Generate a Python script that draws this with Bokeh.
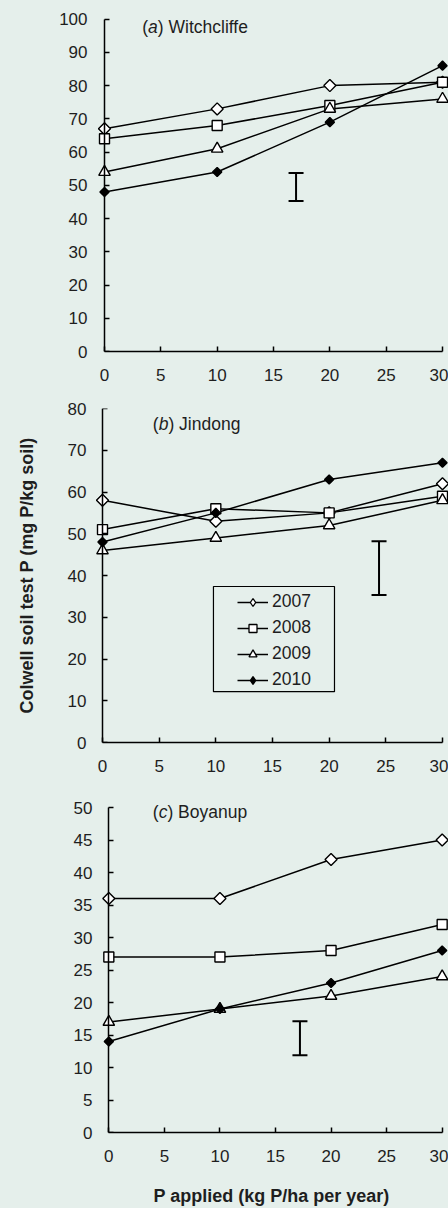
from bokeh.plotting import figure
from bokeh.layouts import column
from bokeh.models import (Label, Legend, LegendItem, BoxAnnotation, Whisker, TeeHead,
                          ColumnDataSource, FixedTicker, Range1d, LinearAxis)
from bokeh.embed import file_html
from bokeh.resources import INLINE
import numpy as np

# ---------------- data ----------------
p_applied = [0, 10, 20, 30]
years = ["2007", "2008", "2009", "2010"]

witch_2007 = [67, 73, 80, 81]
witch_2008 = [64, 68, 74, 81]
witch_2009 = [54, 61, 73, 76]
witch_2010 = [48, 54, 69, 86]

jind_2007 = [58, 53, 55, 62]
jind_2008 = [51, 56, 55, 59]
jind_2009 = [46, 49, 52, 58]
jind_2010 = [48, 55, 63, 67]

boy_2007 = [36, 36, 42, 45]
boy_2008 = [27, 27, 28, 32]
boy_2009 = [17, 19, 21, 24]
boy_2010 = [14, 19, 23, 28]

site_letters = ["a", "b", "c"]
site_names = ["Witchcliffe", "Jindong", "Boyanup"]
y_max = [100, 80, 50]
y_step = [10, 10, 5]

lsd_x = [17.0, 24.4, 17.2]
lsd_low = [45.3, 35.3, 11.9]
lsd_high = [53.7, 48.2, 17.1]

x_ticks = [0, 5, 10, 15, 20, 25, 30]

# ---------------- style ----------------
BG = "#e5efeb"
FONT = "Liberation Sans"
TXT = "#1e1e1e"
FS = "17px"
FS_T = "17.5px"
FS_AX = "18px"

mstyle = {
    "2007": ("square", 8.5, np.pi / 4, "white"),
    "2008": ("square", 10, 0, "white"),
    "2009": ("triangle", 11.5, 0, "white"),
    "2010": ("square", 6.5, np.pi / 4, "black"),
}
legend_marker = {"2007": ("diamond", "white"), "2008": ("square", "white"),
                 "2009": ("triangle", "white"), "2010": ("diamond", "black")}

# panel layout (frames share the same left/right edges)
BL = 86
geom = [
    dict(h=390, bt=4, bb=47, ytop=102, x0=-0.888, x1=30.53, tx=3.35, ty=97.5, so=7),
    dict(h=392, bt=10, bb=48, ytop=80, x0=-0.706, x1=30.53, tx=4.44, ty=76.4, so=8),
    dict(h=418, bt=4, bb=75, ytop=52, x0=-1.29, x1=30.57, tx=3.96, ty=49.3, so=2),
]

series_all = [
    [witch_2007, witch_2008, witch_2009, witch_2010],
    [jind_2007, jind_2008, jind_2009, jind_2010],
    [boy_2007, boy_2008, boy_2009, boy_2010],
]

paren_w = 0.333 * 17.5
letter_w = {"a": 0.556 * 17.5, "b": 0.556 * 17.5, "c": 0.5 * 17.5}

figs = []
for i in range(3):
    g = geom[i]
    p = figure(width=440, height=g["h"], output_backend="svg", toolbar_location=None,
               x_range=Range1d(g["x0"], g["x1"]), y_range=Range1d(0, g["ytop"]),
               min_border_left=BL, min_border_right=0,
               min_border_top=g["bt"], min_border_bottom=g["bb"])
    p.background_fill_color = BG
    p.border_fill_color = BG
    p.outline_line_color = None
    p.grid.visible = False

    yticks = list(range(0, y_max[i] + 1, y_step[i]))

    # x axis
    xa = p.xaxis[0]
    xa.axis_line_color = "black"
    xa.axis_line_width = 1.5
    xa.major_tick_line_color = "black"
    xa.major_tick_line_width = 1.5
    xa.major_tick_in = 5
    xa.major_tick_out = 0
    xa.minor_tick_line_color = None
    xa.major_label_text_font = FONT
    xa.major_label_text_font_size = FS
    xa.major_label_text_color = TXT
    xa.ticker = FixedTicker(ticks=x_ticks)
    xa.bounds = (0, 30)
    xa.major_label_standoff = 17

    # y axis: labels only (at frame edge)
    ya = p.yaxis[0]
    ya.ticker = FixedTicker(ticks=yticks)
    ya.axis_line_color = None
    ya.major_tick_line_color = None
    ya.minor_tick_line_color = None
    ya.major_tick_in = 0
    ya.major_tick_out = 0
    ya.major_label_standoff = g["so"]
    ya.major_label_text_font = FONT
    ya.major_label_text_font_size = FS
    ya.major_label_text_color = TXT

    # y axis line + inward ticks at x = 0
    yl = LinearAxis(ticker=FixedTicker(ticks=yticks), fixed_location=0,
                    bounds=(0, y_max[i]), axis_line_color="black", axis_line_width=1.5,
                    major_tick_line_color="black", major_tick_line_width=1.5,
                    major_tick_in=5, major_tick_out=0, minor_tick_line_color=None,
                    major_label_text_font_size="0px", major_label_standoff=0,
                    major_label_text_alpha=0)
    p.add_layout(yl, "left")

    sers = series_all[i]
    line_r = []
    for yr, ys in zip(years, sers):
        line_r.append(p.line(p_applied, ys, line_color="black", line_width=1.5))
    for yr, ys in zip(years, sers):
        m, s, a, f = mstyle[yr]
        p.scatter(p_applied, ys, marker=m, size=s, angle=a,
                  fill_color=f, line_color="black", line_width=1.4)

    # LSD bar
    src = ColumnDataSource(dict(x=[lsd_x[i]], lo=[lsd_low[i]], hi=[lsd_high[i]]))
    w = Whisker(source=src, base="x", lower="lo", upper="hi", dimension="height",
                line_color="black", line_width=2,
                lower_head=TeeHead(size=15, line_width=2, line_color="black"),
                upper_head=TeeHead(size=15, line_width=2, line_color="black"))
    p.add_layout(w)

    # panel title "(x) Name" with italic letter
    lt = site_letters[i]
    p.add_layout(Label(x=g["tx"], y=g["ty"], text="(", text_font=FONT, text_font_size=FS_T,
                       text_color=TXT, text_baseline="middle", text_align="left"))
    p.add_layout(Label(x=g["tx"], y=g["ty"], x_offset=paren_w, text=lt, text_font=FONT,
                       text_font_size=FS_T, text_font_style="italic", text_color=TXT,
                       text_baseline="middle", text_align="left"))
    p.add_layout(Label(x=g["tx"], y=g["ty"], x_offset=paren_w + letter_w[lt],
                       text=") " + site_names[i], text_font=FONT, text_font_size=FS_T,
                       text_color=TXT, text_baseline="middle", text_align="left"))

    if i == 1:
        ya.axis_label = "Colwell soil test P (mg P/kg soil)"
        ya.axis_label_text_font = FONT
        ya.axis_label_text_font_size = FS_AX
        ya.axis_label_text_font_style = "bold"
        ya.axis_label_text_color = TXT
        ya.axis_label_standoff = 28
        items = []
        for k, (yr, ys) in enumerate(zip(years, sers)):
            lm, lf = legend_marker[yr]
            proxy = p.scatter(p_applied, ys, marker=lm, fill_color=lf,
                              line_color="black", line_width=1.3, visible=False)
            items.append(LegendItem(label=yr, renderers=[line_r[k], proxy]))
        leg = Legend(items=items, location=(143, 52), padding=0, margin=0,
                     glyph_width=31, glyph_height=20, label_height=20, spacing=5,
                     label_standoff=4, label_text_font=FONT, label_text_font_size=FS_T,
                     label_text_color=TXT, background_fill_alpha=0,
                     border_line_alpha=0)
        p.add_layout(leg)
        p.add_layout(BoxAnnotation(left=9.79, right=20.47, bottom=12.17, top=37.36,
                                   fill_alpha=0, line_color="black", line_alpha=1,
                                   line_width=1.2))
    if i == 2:
        xa.axis_label = "P applied (kg P/ha per year)"
        xa.axis_label_text_font = FONT
        xa.axis_label_text_font_size = FS_AX
        xa.axis_label_text_font_style = "bold"
        xa.axis_label_text_color = TXT
        xa.axis_label_standoff = 21
    figs.append(p)

layout = column(*figs, spacing=0)
html = file_html(layout, INLINE)
css = ("<style>html{background-color:%s;overflow:hidden;}"
       "body{background-color:%s;margin:8px 0 0 8px;overflow:hidden;}</style></head>") % (BG, BG)
html = html.replace("</head>", css, 1)
open("out.html", "w").write(html)
